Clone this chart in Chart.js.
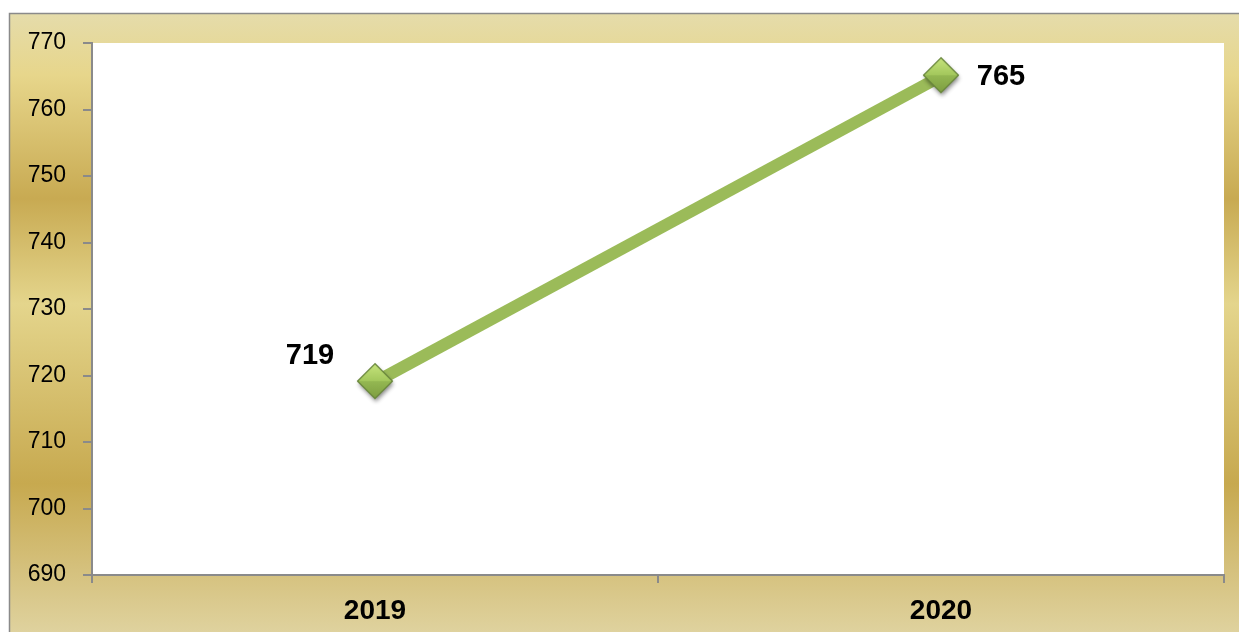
<!DOCTYPE html>
<html>
<head>
<meta charset="utf-8">
<script src="https://cdn.jsdelivr.net/npm/chart.js@4"></script>
<style>
  html, body { margin: 0; padding: 0; background: #fff; }
  #wrap { width: 1239px; height: 632px; position: relative; }
</style>
</head>
<body>
<div id="wrap"><canvas id="grafica"></canvas></div>
<script>
const anios = ['2019', '2020'];
const valores = [719, 765];
const ejeMin = 690, ejeMax = 770, paso = 10;

// diamond marker, lighter on the upper half
function rombo() {
  const c = document.createElement('canvas');
  c.width = 52; c.height = 52;
  const g = c.getContext('2d');
  const cx = 26, cy = 25, r = 17.5;
  g.save();
  g.shadowColor = 'rgba(0,0,0,0.45)';
  g.shadowBlur = 4;
  g.shadowOffsetX = 1;
  g.shadowOffsetY = 3;
  g.beginPath();
  g.moveTo(cx, cy - r); g.lineTo(cx + r, cy); g.lineTo(cx, cy + r); g.lineTo(cx - r, cy);
  g.closePath();
  g.fillStyle = '#8fb14d';
  g.fill();
  g.restore();
  // upper half
  let gr = g.createLinearGradient(0, cy - r, 0, cy);
  gr.addColorStop(0, '#c6e47c');
  gr.addColorStop(1, '#a3c75c');
  g.beginPath();
  g.moveTo(cx, cy - r); g.lineTo(cx + r, cy); g.lineTo(cx - r, cy); g.closePath();
  g.fillStyle = gr; g.fill();
  // lower half
  gr = g.createLinearGradient(0, cy, 0, cy + r);
  gr.addColorStop(0, '#94b852');
  gr.addColorStop(1, '#7d9d40');
  g.beginPath();
  g.moveTo(cx - r, cy); g.lineTo(cx + r, cy); g.lineTo(cx, cy + r); g.closePath();
  g.fillStyle = gr; g.fill();
  g.beginPath();
  g.moveTo(cx, cy - r); g.lineTo(cx + r, cy); g.lineTo(cx, cy + r); g.lineTo(cx - r, cy);
  g.closePath();
  g.strokeStyle = '#66833a'; g.lineWidth = 1.2; g.stroke();
  return c;
}

const fondo = {
  id: 'fondo',
  beforeDraw(chart) {
    const ctx = chart.ctx, a = chart.chartArea;
    const w = chart.width, h = chart.height;
    ctx.save();
    ctx.fillStyle = '#ffffff';
    ctx.fillRect(0, 0, w, h);
    const gr = ctx.createLinearGradient(0, 13, 0, h);
    gr.addColorStop(0, '#e5dcab');
    gr.addColorStop(0.1, '#e7d68b');
    gr.addColorStop(0.3, '#c8aa52');
    gr.addColorStop(0.47, '#e4d58c');
    gr.addColorStop(0.76, '#c7a94f');
    gr.addColorStop(1, '#dfd29e');
    ctx.fillStyle = gr;
    ctx.fillRect(9, 13, w - 9, h - 13);
    ctx.strokeStyle = '#8a8a8a';
    ctx.lineWidth = 1.5;
    ctx.beginPath();
    ctx.moveTo(9.5, h); ctx.lineTo(9.5, 13.5); ctx.lineTo(w, 13.5);
    ctx.stroke();
    ctx.fillStyle = '#ffffff';
    ctx.fillRect(a.left, a.top, a.right - a.left, a.bottom - a.top);
    ctx.restore();
  }
};

// value labels next to each point
const etiquetas = {
  id: 'etiquetas',
  afterDatasetsDraw(chart, args, opts) {
    const ctx = chart.ctx;
    const meta = chart.getDatasetMeta(0);
    ctx.save();
    ctx.font = 'bold 29px "Liberation Sans", Arial, sans-serif';
    ctx.fillStyle = '#000';
    ctx.textAlign = 'center';
    ctx.textBaseline = 'middle';
    meta.data.forEach((p, i) => {
      const d = opts.desplaza[i];
      ctx.fillText(String(valores[i]), p.x + d[0], p.y + d[1]);
    });
    ctx.restore();
  }
};

new Chart(document.getElementById('grafica'), {
  type: 'line',
  data: {
    labels: anios,
    datasets: [{
      data: valores,
      borderColor: '#9bbb59',
      borderWidth: 12,
      borderCapStyle: 'butt',
      pointStyle: rombo(),
      pointRadius: 18,
      pointHoverRadius: 18,
      tension: 0
    }]
  },
  options: {
    responsive: true,
    maintainAspectRatio: false,
    animation: false,
    events: [],
    layout: { autoPadding: false, padding: { top: 43, right: 15, left: 0, bottom: 0 } },
    plugins: {
      legend: { display: false },
      tooltip: { enabled: false },
      etiquetas: { desplaza: [[-65, -26], [60, 1]] }
    },
    scales: {
      x: {
        offset: true,
        afterFit(s) { s.height = 57; s.paddingLeft = 0; s.paddingRight = 0; },
        grid: { offset: true, drawOnChartArea: false, color: '#8a8a8a', lineWidth: 2, tickLength: 8 },
        border: { color: '#8a8a8a', width: 2 },
        ticks: {
          color: '#000',
          padding: 11,
          font: { family: '"Liberation Sans", Arial, sans-serif', size: 28, weight: 'bold' }
        }
      },
      y: {
        min: ejeMin,
        max: ejeMax,
        afterFit(s) { s.width = 92; },
        grid: { drawOnChartArea: false, color: '#8a8a8a', lineWidth: 2, tickLength: 9 },
        border: { color: '#8a8a8a', width: 2 },
        ticks: {
          stepSize: paso,
          color: '#000',
          padding: 17,
          font: { family: '"Liberation Sans", Arial, sans-serif', size: 23 }
        }
      }
    }
  },
  plugins: [fondo, etiquetas]
});
</script>
</body>
</html>
